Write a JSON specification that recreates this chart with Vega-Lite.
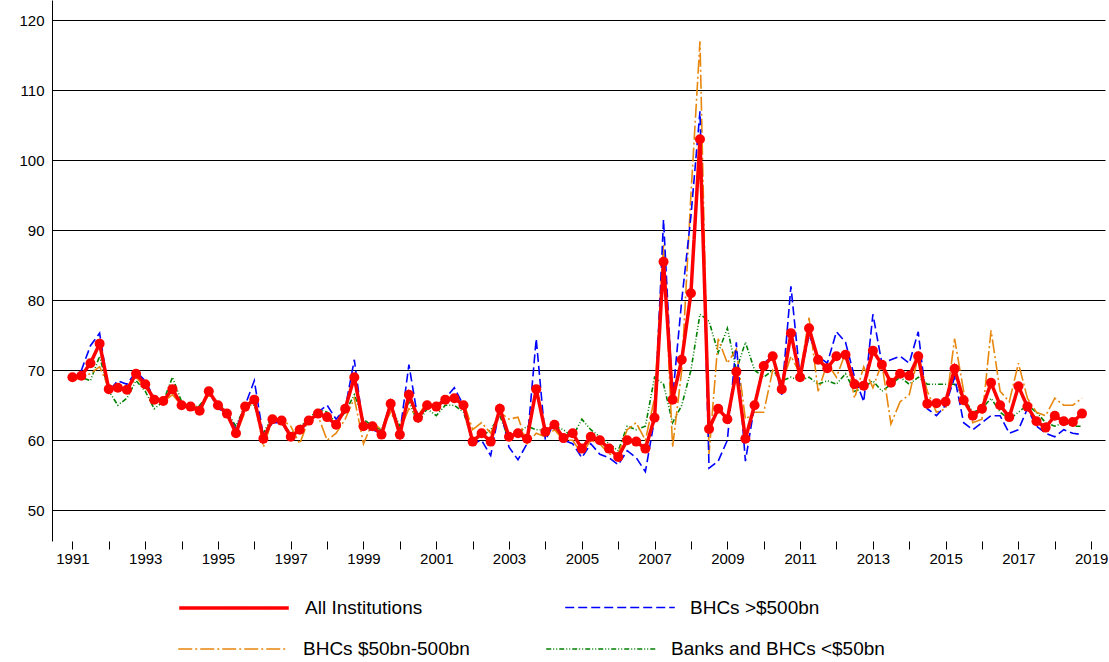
{
  "$schema": "https://vega.github.io/schema/vega-lite/v6.json",
  "width": 1053,
  "height": 541,
  "autosize": "none",
  "padding": {"left": 52, "top": 0, "right": 4, "bottom": 121},
  "config": {
    "font": "Liberation Sans",
    "view": {"stroke": null},
    "axis": {"labelFont": "Liberation Sans", "labelFontSize": 15, "labelColor": "black", "domainColor": "black", "tickColor": "black", "title": null},
    "legend": {"title": null, "symbolType": "stroke", "symbolSize": 12000, "labelFontSize": 19, "labelFont": "Liberation Sans", "labelColor": "black", "labelOffset": 14, "labelLimit": 400, "direction": "horizontal"}
  },
  "data": {"values": [
    {"d":"1991-01-01","a":69,"b":68.5,"o":68.5,"g":68.5},
    {"d":"1991-04-01","a":69.2,"b":70,"o":69,"g":69},
    {"d":"1991-07-01","a":71,"b":73.5,"o":69.5,"g":68.5},
    {"d":"1991-10-01","a":73.8,"b":75.3,"o":70.5,"g":72},
    {"d":"1992-01-01","a":67.3,"b":67,"o":67.5,"g":67},
    {"d":"1992-04-01","a":67.5,"b":68.5,"o":67.5,"g":65},
    {"d":"1992-07-01","a":67.2,"b":68,"o":67,"g":66},
    {"d":"1992-10-01","a":69.5,"b":69.8,"o":69,"g":68.5},
    {"d":"1993-01-01","a":68,"b":68.5,"o":67.5,"g":67},
    {"d":"1993-04-01","a":65.8,"b":66,"o":66,"g":64.5},
    {"d":"1993-07-01","a":65.6,"b":65.5,"o":65.5,"g":65.5},
    {"d":"1993-10-01","a":67.3,"b":67.5,"o":66.5,"g":69},
    {"d":"1994-01-01","a":65,"b":65,"o":65,"g":65.5},
    {"d":"1994-04-01","a":64.8,"b":64.5,"o":65,"g":64.5},
    {"d":"1994-07-01","a":64.2,"b":64.5,"o":64.5,"g":65},
    {"d":"1994-10-01","a":67,"b":67,"o":66.5,"g":66.5},
    {"d":"1995-01-01","a":65,"b":64.5,"o":65,"g":65.5},
    {"d":"1995-04-01","a":63.8,"b":64,"o":63.5,"g":64},
    {"d":"1995-07-01","a":61,"b":61.5,"o":61,"g":62},
    {"d":"1995-10-01","a":64.8,"b":65,"o":64,"g":65},
    {"d":"1996-01-01","a":65.8,"b":68.5,"o":66,"g":65},
    {"d":"1996-04-01","a":60.2,"b":60.5,"o":59,"g":61},
    {"d":"1996-07-01","a":63,"b":62.5,"o":63,"g":63.5},
    {"d":"1996-10-01","a":62.8,"b":62.5,"o":63,"g":62.5},
    {"d":"1997-01-01","a":60.5,"b":60.5,"o":62,"g":61},
    {"d":"1997-04-01","a":61.5,"b":61.5,"o":59.5,"g":62},
    {"d":"1997-07-01","a":62.8,"b":62.5,"o":63,"g":63},
    {"d":"1997-10-01","a":63.8,"b":64,"o":63.5,"g":64.5},
    {"d":"1998-01-01","a":63.3,"b":65,"o":60,"g":64},
    {"d":"1998-04-01","a":62.2,"b":63,"o":61,"g":62.5},
    {"d":"1998-07-01","a":64.5,"b":64.5,"o":63,"g":64},
    {"d":"1998-10-01","a":69,"b":71.5,"o":66,"g":66.5},
    {"d":"1999-01-01","a":62,"b":61.5,"o":59.5,"g":63},
    {"d":"1999-04-01","a":62,"b":61.5,"o":62.5,"g":62},
    {"d":"1999-07-01","a":60.8,"b":61,"o":61.5,"g":61.5},
    {"d":"1999-10-01","a":65.2,"b":65.5,"o":64,"g":65},
    {"d":"2000-01-01","a":60.8,"b":61,"o":61.5,"g":62},
    {"d":"2000-04-01","a":66.5,"b":70.8,"o":64.5,"g":65.5},
    {"d":"2000-07-01","a":63.2,"b":63,"o":63.5,"g":62.5},
    {"d":"2000-10-01","a":65,"b":65,"o":65.5,"g":64.5},
    {"d":"2001-01-01","a":64.8,"b":65,"o":64.5,"g":63.5},
    {"d":"2001-04-01","a":65.8,"b":66,"o":65.5,"g":65},
    {"d":"2001-07-01","a":66,"b":67.5,"o":66,"g":65},
    {"d":"2001-10-01","a":65,"b":65,"o":65.5,"g":64},
    {"d":"2002-01-01","a":59.8,"b":59.5,"o":61.5,"g":60},
    {"d":"2002-04-01","a":61,"b":60,"o":62.5,"g":60.5},
    {"d":"2002-07-01","a":59.8,"b":57.8,"o":61,"g":61.5},
    {"d":"2002-10-01","a":64.5,"b":64.7,"o":64,"g":63.5},
    {"d":"2003-01-01","a":60.5,"b":59,"o":63,"g":60},
    {"d":"2003-04-01","a":61,"b":57.2,"o":63.3,"g":61},
    {"d":"2003-07-01","a":60.2,"b":59.5,"o":59.5,"g":62},
    {"d":"2003-10-01","a":67.3,"b":74.5,"o":61,"g":61.5},
    {"d":"2004-01-01","a":61.2,"b":60,"o":60.5,"g":61.5},
    {"d":"2004-04-01","a":62.2,"b":62.5,"o":61.5,"g":62},
    {"d":"2004-07-01","a":60.3,"b":60,"o":60,"g":61.5},
    {"d":"2004-10-01","a":61,"b":59.5,"o":60,"g":60.5},
    {"d":"2005-01-01","a":58.8,"b":57.5,"o":58,"g":63},
    {"d":"2005-04-01","a":60.5,"b":59.5,"o":60,"g":61.5},
    {"d":"2005-07-01","a":60,"b":58,"o":59.5,"g":60.5},
    {"d":"2005-10-01","a":58.8,"b":57.5,"o":58,"g":59.5},
    {"d":"2006-01-01","a":57.6,"b":56.5,"o":58,"g":58.5},
    {"d":"2006-04-01","a":60,"b":58.5,"o":61.5,"g":62},
    {"d":"2006-07-01","a":59.8,"b":57.5,"o":62.5,"g":61.5},
    {"d":"2006-10-01","a":58.8,"b":55.5,"o":60,"g":62},
    {"d":"2007-01-01","a":63.2,"b":63,"o":66,"g":69},
    {"d":"2007-04-01","a":85.5,"b":91.5,"o":88,"g":68},
    {"d":"2007-07-01","a":65.8,"b":66,"o":59,"g":62.5},
    {"d":"2007-10-01","a":71.5,"b":80,"o":70,"g":65},
    {"d":"2008-01-01","a":81,"b":92,"o":95,"g":70},
    {"d":"2008-04-01","a":103,"b":107,"o":117,"g":78},
    {"d":"2008-07-01","a":61.6,"b":56,"o":58,"g":77},
    {"d":"2008-10-01","a":64.5,"b":57,"o":74.5,"g":72.5},
    {"d":"2009-01-01","a":63,"b":60,"o":71,"g":76},
    {"d":"2009-04-01","a":69.8,"b":74,"o":73,"g":70},
    {"d":"2009-07-01","a":60.2,"b":57,"o":63,"g":74},
    {"d":"2009-10-01","a":65,"b":65,"o":64,"g":70},
    {"d":"2010-01-01","a":70.6,"b":71,"o":64,"g":69},
    {"d":"2010-04-01","a":72,"b":72,"o":70,"g":70},
    {"d":"2010-07-01","a":67.3,"b":66.5,"o":68,"g":68.5},
    {"d":"2010-10-01","a":75.3,"b":82,"o":72,"g":69},
    {"d":"2011-01-01","a":69,"b":69,"o":69.5,"g":68.5},
    {"d":"2011-04-01","a":76,"b":75,"o":77.5,"g":69},
    {"d":"2011-07-01","a":71.5,"b":72,"o":67,"g":68},
    {"d":"2011-10-01","a":70.3,"b":71,"o":71,"g":68.5},
    {"d":"2012-01-01","a":72,"b":75.5,"o":69,"g":68},
    {"d":"2012-04-01","a":72.2,"b":74,"o":72.5,"g":69.5},
    {"d":"2012-07-01","a":68,"b":69,"o":66,"g":67},
    {"d":"2012-10-01","a":67.8,"b":65.5,"o":70.5,"g":67.5},
    {"d":"2013-01-01","a":72.8,"b":78,"o":67.5,"g":68.5},
    {"d":"2013-04-01","a":70.8,"b":71,"o":71,"g":67},
    {"d":"2013-07-01","a":68.2,"b":71.5,"o":62.3,"g":68},
    {"d":"2013-10-01","a":69.5,"b":72,"o":65.5,"g":69},
    {"d":"2014-01-01","a":69.2,"b":71,"o":66.5,"g":68},
    {"d":"2014-04-01","a":72,"b":75.5,"o":72,"g":69},
    {"d":"2014-07-01","a":65.2,"b":64.5,"o":67,"g":68},
    {"d":"2014-10-01","a":65.3,"b":63.5,"o":64,"g":68},
    {"d":"2015-01-01","a":65.5,"b":65,"o":64.5,"g":68},
    {"d":"2015-04-01","a":70.2,"b":69,"o":74.5,"g":68},
    {"d":"2015-07-01","a":65.7,"b":62.5,"o":67,"g":66},
    {"d":"2015-10-01","a":63.5,"b":61.5,"o":62.5,"g":64},
    {"d":"2016-01-01","a":64.5,"b":62.5,"o":63,"g":64.5},
    {"d":"2016-04-01","a":68.2,"b":63.5,"o":75.7,"g":66},
    {"d":"2016-07-01","a":65,"b":63.5,"o":67,"g":64},
    {"d":"2016-10-01","a":63.3,"b":61,"o":65.5,"g":63},
    {"d":"2017-01-01","a":67.7,"b":61.5,"o":71,"g":64},
    {"d":"2017-04-01","a":64.8,"b":64.5,"o":66,"g":65},
    {"d":"2017-07-01","a":62.7,"b":62,"o":64,"g":64},
    {"d":"2017-10-01","a":61.8,"b":61,"o":63.5,"g":62.5},
    {"d":"2018-01-01","a":63.5,"b":60.5,"o":66,"g":62},
    {"d":"2018-04-01","a":62.7,"b":61.5,"o":65,"g":62.5},
    {"d":"2018-07-01","a":62.6,"b":61,"o":65,"g":62},
    {"d":"2018-10-01","a":63.8,"b":60.8,"o":66,"g":62}
  ]},
  "transform": [{"fold": ["g", "o", "b", "a"], "as": ["s", "v"]}],
  "encoding": {
    "x": {
      "field": "d", "type": "temporal",
      "scale": {"domain": ["1990-06-10", "2019-05-20"]},
      "axis": {"grid": false, "tickCount": {"interval": "year", "step": 1}, "labelExpr": "year(datum.value) % 2 == 1 ? timeFormat(datum.value, '%Y') : ''", "tickSize": 8, "labelPadding": 2, "domain": false}
    },
    "y": {
      "field": "v", "type": "quantitative",
      "scale": {"domain": [45.6, 122.9], "nice": false, "zero": false},
      "axis": {"values": [50, 60, 70, 80, 90, 100, 110, 120], "grid": true, "gridColor": "black", "gridOpacity": 1, "tickSize": 0, "labelPadding": 8}
    }
  },
  "layer": [
    {
      "transform": [{"filter": "datum.s == 'o' || datum.s == 'g'"}],
      "mark": {"type": "line", "strokeWidth": 1.6},
      "encoding": {
        "color": {"field": "s", "type": "nominal",
          "scale": {"domain": ["o", "g"], "range": ["#e8870e", "#008000"]},
          "legend": {"orient": "none", "legendX": 125, "legendY": 593, "columnPadding": 73, "labelExpr": "datum.value == 'o' ? 'BHCs $50bn-500bn' : 'Banks and BHCs <$50bn'"}},
        "strokeDash": {"field": "s", "type": "nominal",
          "scale": {"domain": ["o", "g"], "range": [[14, 3, 2, 3], [5, 2, 1, 2, 1, 2]]},
          "legend": {"orient": "none", "legendX": 125, "legendY": 593, "columnPadding": 73, "labelExpr": "datum.value == 'o' ? 'BHCs $50bn-500bn' : 'Banks and BHCs <$50bn'"}}
      }
    },
    {
      "transform": [{"filter": "datum.s == 'a' || datum.s == 'b'"}],
      "mark": {"type": "line"},
      "encoding": {
        "color": {"field": "s", "type": "nominal",
          "scale": {"domain": ["a", "b"], "range": ["#ff0000", "#0000ff"]},
          "legend": {"orient": "none", "legendX": 125, "legendY": 551, "columnPadding": 139, "labelExpr": "datum.value == 'a' ? 'All Institutions' : 'BHCs >$500bn'"}},
        "strokeDash": {"field": "s", "type": "nominal",
          "scale": {"domain": ["a", "b"], "range": [[1, 0], [9, 4]]},
          "legend": {"orient": "none", "legendX": 125, "legendY": 551, "columnPadding": 139, "labelExpr": "datum.value == 'a' ? 'All Institutions' : 'BHCs >$500bn'"}},
        "strokeWidth": {"field": "s", "type": "nominal", "scale": {"domain": ["a", "b"], "range": [3.5, 1.6]}, "legend": null},
        "order": {"field": "d", "type": "temporal"}
      }
    },
    {
      "transform": [{"filter": "datum.s == 'a'"}],
      "mark": {"type": "circle", "size": 100, "opacity": 1, "color": "#ff0000"}
    }
  ],
  "resolve": {"scale": {"color": "independent", "strokeDash": "independent", "strokeWidth": "independent"}, "legend": {"color": "independent", "strokeDash": "independent"}}
}
